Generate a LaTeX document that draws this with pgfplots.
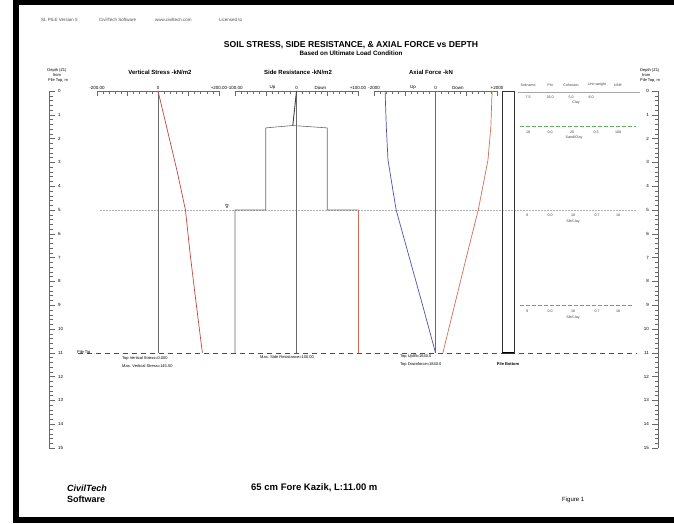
\documentclass[border=0pt]{standalone}
\usepackage{fontspec}
\setmainfont{Liberation Sans}
\newfontfamily\dejavu{DejaVu Sans}
\usepackage{pgfplots}
\pgfplotsset{compat=1.18}

\definecolor{stressred}{RGB}{195,70,60}
\definecolor{upblue}{RGB}{80,80,165}
\definecolor{downred}{RGB}{210,110,85}
\definecolor{layergreen}{RGB}{95,175,95}
\definecolor{linegray}{RGB}{105,105,105}

\newcommand{\fs}[1]{\fontsize{#1}{#1}\selectfont}

% depth 0 at y=91px, 23.8px per metre
\pgfplotsset{
  depthaxis/.style={scale only axis, anchor=north west, width=6pt, height=357pt,
    xmin=0, xmax=1, ymin=0, ymax=15, y dir=reverse, axis x line=none,
    ytick={0,...,15}, minor y tick num=4, tick align=inside,
    major tick length=6pt, minor tick length=3.5pt,
    tick style={linegray, line width=0.45pt},
    axis line style={linegray, line width=0.6pt},
    /pgf/number format/assume math mode=true},
  panel/.style={scale only axis, anchor=north west, height=261.8pt,
    ymin=0, ymax=11, y dir=reverse, axis x line*=top, axis y line=none,
    tick align=inside, major tick length=5pt, minor tick length=3pt,
    tick style={linegray, line width=0.45pt},
    axis line style={linegray, line width=0.6pt},
    xticklabel style={font=\fs{4.5}, inner sep=1.5pt},
    minor x tick num=4, clip=false},
}

\begin{document}
\begin{tikzpicture}
\path[use as bounding box] (0,0) rectangle (674pt,-524pt);

% whole-width frame axis: x in picture units, y in depth
\begin{axis}[scale only axis, anchor=north west, at={(0pt,-91pt)},
  width=674pt, height=357pt, xmin=0, xmax=674, ymin=0, ymax=15,
  y dir=reverse, hide axis, clip=false]
\addplot[gray!60, line width=0.5pt, dash pattern=on 2pt off 1pt] coordinates {(100,5) (637,5)};
\addplot[black!70, line width=0.6pt, dash pattern=on 5pt off 4pt] coordinates {(78,11) (637,11)};
\addplot[gray!70, line width=0.5pt] coordinates {(518,0.04) (640,0.04)};
\addplot[layergreen, line width=0.7pt, dash pattern=on 4pt off 2pt] coordinates {(520,1.5) (636,1.5)};
\addplot[layergreen, line width=0.7pt, dash pattern=on 4pt off 2pt] coordinates {(520,9) (634,9)};
\end{axis}

% left depth axis: ruler line at left, numbers to the right
\begin{axis}[depthaxis, at={(49pt,-91pt)}, axis y line*=left,
  yticklabel style={font=\fs{4.5}, inner sep=0pt, anchor=west, xshift=9pt}]
\addplot[draw=none] coordinates {(0,0)};
\end{axis}

% right depth axis: ruler line at right, numbers to the left
\begin{axis}[depthaxis, at={(652pt,-91pt)}, axis y line*=right,
  yticklabel style={font=\fs{4.5}, inner sep=0pt, anchor=east, xshift=-9pt}]
\addplot[draw=none] coordinates {(0,0)};
\end{axis}

% vertical stress
\begin{axis}[panel, at={(97pt,-91pt)}, width=122pt, xmin=-200, xmax=200,
  xtick={-200,-100,...,200}, xticklabels={-200.00,,0,,+200.00}]
\addplot[linegray, line width=0.6pt] coordinates {(0,0) (0,11)};
\addplot[stressred, line width=0.7pt] coordinates {
(0,0) (28,1.5) (62,3.33) (90,5) (105,6.8) (121,8.5) (145.5,11)};
\end{axis}

% side resistance
\begin{axis}[panel, at={(235pt,-91pt)}, width=123pt, xmin=-100, xmax=100,
  xtick={-100,-50,...,100}, xticklabels={-100.00,,0,,+100.00}]
\node[font=\fs{4.5}, above, inner sep=1.5pt] at (axis cs:-39,0) {Up};
\node[font=\fs{4.5}, above, inner sep=1.5pt] at (axis cs:39,0) {Down};
\addplot[linegray, line width=0.6pt] coordinates {(0,0) (0,11)};
\addplot[black!75, line width=0.9pt] coordinates {(0,0) (-6,1.45)};
\addplot[linegray, line width=0.6pt] coordinates {
(-6,1.45) (-50,1.55) (-50,5) (-100,5) (-100,11)};
\addplot[linegray, line width=0.6pt] coordinates {
(-6,1.45) (50,1.55) (50,5) (100,5)};
\addplot[downred, line width=0.6pt] coordinates {(100,5) (100,11)};
\end{axis}

% axial force and pile
\begin{axis}[panel, at={(374pt,-91pt)}, width=123pt, xmin=-2000, xmax=2000,
  xtick={-2000,-1000,...,2000}, xticklabels={-2000,,0,,+2000}]
\node[font=\fs{4.5}, above, inner sep=1.5pt] at (axis cs:-730,0) {Up};
\node[font=\fs{4.5}, above, inner sep=1.5pt] at (axis cs:730,0) {Down};
\addplot[linegray, line width=0.6pt] coordinates {(0,0) (0,11)};
\addplot[upblue, line width=0.7pt] coordinates {
(-1640,0) (-1600,1.5) (-1545,2.9) (-1280,5) (-850,7) (-420,9) (0,11)};
\addplot[downred, line width=0.7pt] coordinates {
(1840,0) (1800,1.5) (1706,2.9) (1390,5) (1000,7) (620,9) (240,11)};
\addplot[black!80, line width=0.6pt] coordinates {
(2160,0) (2550,0) (2550,11) (2160,11) (2160,0)};
\addplot[black, line width=1.2pt] coordinates {(2160,11) (2550,11)};
\end{axis}

\begin{scope}[x=1pt, y=-1pt]
% frame
\fill[black] (13,0) rectangle (19,523);
\fill[black] (13,0) rectangle (674,5);
\fill[black] (13,517) rectangle (674,523);

% header
\begin{scope}[every node/.style={anchor=west, font=\fs{4.5}, text=black!70, inner sep=0}]
\node at (41,20) {SL PILE Version 5};
\node at (99,20) {CivilTech Software};
\node at (155,20) {www.civiltech.com};
\node at (219,20) {Licensed to};
\end{scope}

\node[font=\fs{8.6}\bfseries] at (351,45) {SOIL STRESS, SIDE RESISTANCE, \& AXIAL FORCE vs DEPTH};
\node[font=\fs{6.3}\bfseries] at (351,53.5) {Based on Ultimate Load Condition};

\node[font=\fs{6}\bfseries] at (160,72) {Vertical Stress -kN/m2};
\node[font=\fs{6}\bfseries] at (298,72) {Side Resistance -kN/m2};
\node[font=\fs{6}\bfseries] at (431,72) {Axial Force -kN};

% depth axis titles
\begin{scope}[every node/.style={font=\fs{4}, inner sep=0}]
\node at (57,70) {Depth (Z1)};
\node at (57,75) {from};
\node at (58,80.5) {Pile Top, m};
\node[anchor=west] at (640,70) {Depth (Z1)};
\node[anchor=west] at (642,75) {from};
\node[anchor=west] at (640,80.5) {Pile Top, m};
\end{scope}

% water table mark and pile tip
\node[font=\dejavu\fs{5}, inner sep=0] at (227,207) {∇};
\node[font=\fs{4}, anchor=west, inner sep=0] at (77,352) {Pile Tip};

% results text
\begin{scope}[every node/.style={font=\fs{4}, anchor=west, inner sep=0}]
\node at (122,358) {Top Vertical Stress=0.000};
\node at (122,366) {Max. Vertical Stress=145.50};
\node at (260,357) {Max. Side Resistance=100.00};
\node at (400,356) {Top Uplift=1640.0};
\node at (400,364) {Top Downforce=1840.0};
\end{scope}
\node[font=\fs{4}\bfseries, inner sep=0] at (508,364) {Pile Bottom};

% soil table
\begin{scope}[every node/.style={font=\fs{3.6}, inner sep=0, text=black!75}]
\node at (528,85) {Soilname};
\node at (550,85) {Phi};
\node at (571,85) {Cohesion};
\node at (597,85) {Unit weight};
\node at (618,85) {k/Nfr};
\node at (528,97) {7.5};
\node at (550,97) {26.0};
\node at (571,97) {5.0};
\node at (591,97) {8.0};
\node at (576,103) {Clay};
\node at (528,132) {18};
\node at (550,132) {0.0};
\node at (572,132) {20};
\node at (596,132) {0.5};
\node at (618,132) {100};
\node at (574,138) {Sand/Clay};
\node at (527,215) {9};
\node at (550,215) {0.0};
\node at (573,215) {18};
\node at (597,215) {0.7};
\node at (618,215) {18};
\node at (573,222) {Silt/Clay};
\node at (527,311) {9};
\node at (550,311) {0.0};
\node at (573,311) {18};
\node at (597,311) {0.7};
\node at (618,311) {18};
\node at (573,318) {Silt/Clay};
\end{scope}

% footer
\node[font=\fs{9}\bfseries\itshape, anchor=west, inner sep=0] at (67,488) {CivilTech};
\node[font=\fs{9}\bfseries, anchor=west, inner sep=0] at (67,499) {Software};
\node[font=\fs{9.5}\bfseries, anchor=west, inner sep=0] at (251,488) {65 cm Fore Kazik, L:11.00 m};
\node[font=\fs{6}, anchor=west, inner sep=0] at (562,500) {Figure 1};
\end{scope}
\end{tikzpicture}
\end{document}
